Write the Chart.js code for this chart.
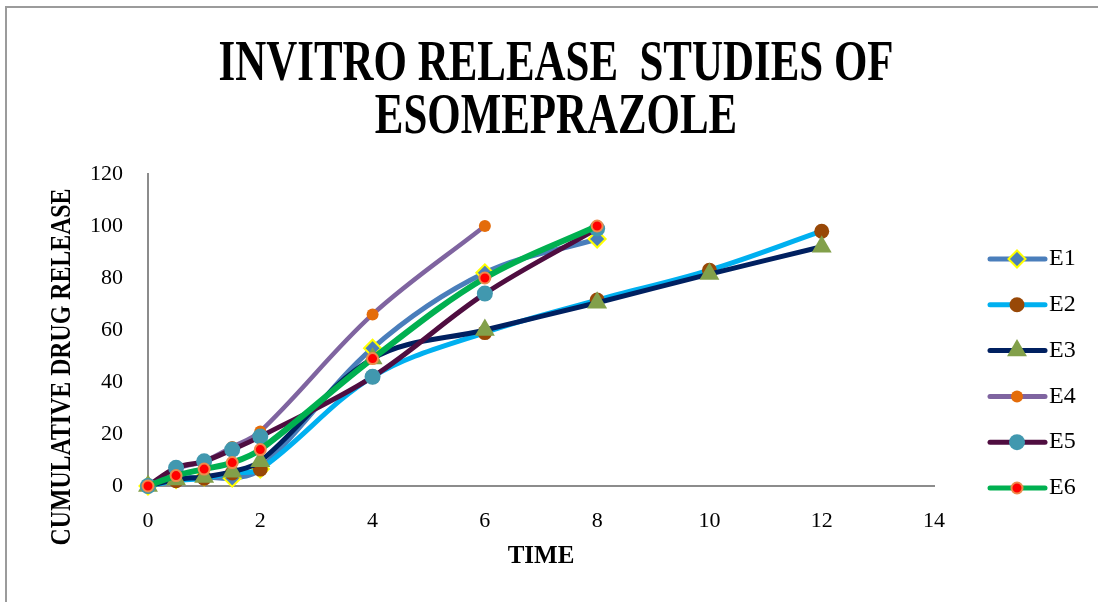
<!DOCTYPE html>
<html>
<head>
<meta charset="utf-8">
<title>Invitro release studies of esomeprazole</title>
<script src="https://cdn.jsdelivr.net/npm/chart.js@4.4.1/dist/chart.umd.min.js"></script>
<style>
  html, body { margin: 0; padding: 0; background: #fff; }
  canvas { display: block; }
</style>
</head>
<body>
<canvas id="releaseChart" width="1098" height="602"></canvas>
<script>
// sampling times (h)
const time = [0, 0.5, 1, 1.5, 2, 4, 6, 8, 10, 12];

// cumulative drug release (%) for each formulation
const e1 = [0, 2.5, 3.5, 3, 6.5, 53, 82, 95];
const e2 = [0, 2, 3, 5, 6.5, 42, 59, 71.5, 83, 98];
const e3 = [0, 2.5, 3.5, 5.5, 9.5, 49, 60, 70.5, 81.5, 92];
const e4 = [0, 6.5, 9.5, 15, 21, 66, 100];
const e5 = [0, 7, 9.5, 14, 19, 42, 74, 99];
const e6 = [0, 4, 6.5, 9, 14, 49, 80, 100];

const seriesNames = ['E1', 'E2', 'E3', 'E4', 'E5', 'E6'];
const seriesValues = [e1, e2, e3, e4, e5, e6];

const titleLines = ['INVITRO RELEASE  STUDIES OF', 'ESOMEPRAZOLE'];
const xTitle = 'TIME';
const yTitle = 'CUMULATIVE DRUG RELEASE';
const xRange = [0, 14, 2];   // min, max, step
const yRange = [0, 120, 20];

// line + marker look per series
const styles = [
  { line: '#4A7EBB', width: 5,   point: 'rectRot',  radius: 8.5,  fill: '#4A7EBB', border: '#FFFF00', bw: 2 },
  { line: '#00B0F0', width: 5,   point: 'circle',   radius: 7.5,  fill: '#984807', border: '#984807', bw: 0 },
  { line: '#002060', width: 5,   point: 'triangle', radius: 11.5, fill: '#82A04A', border: '#82A04A', bw: 0 },
  { line: '#7F64A0', width: 4.5, point: 'circle',   radius: 6,    fill: '#E46C0A', border: '#E46C0A', bw: 0 },
  { line: '#4F0D40', width: 5,   point: 'circle',   radius: 8,    fill: '#4198AF', border: '#4198AF', bw: 0 },
  { line: '#00B050', width: 6,   point: 'circle',   radius: 5.5,  fill: '#FF0000', border: '#EE8A4C', bw: 2 }
];

const datasets = seriesNames.map((name, i) => ({
  label: name,
  data: seriesValues[i].map((v, j) => ({ x: time[j], y: v })),
  borderColor: styles[i].line,
  borderWidth: styles[i].width,
  borderJoinStyle: 'round',
  pointStyle: styles[i].point,
  pointRadius: styles[i].radius,
  pointBackgroundColor: styles[i].fill,
  pointBorderColor: styles[i].border,
  pointBorderWidth: styles[i].bw,
  tension: 0.35,
  clip: false,
  // later series sit on top
  order: seriesNames.length - 1 - i
}));

// white page with the thin grey frame
const frame = {
  id: 'frame',
  beforeDraw(chart) {
    const ctx = chart.ctx;
    ctx.save();
    ctx.fillStyle = '#fff';
    ctx.fillRect(0, 0, chart.width, chart.height);
    ctx.strokeStyle = '#9B9B9B';
    ctx.lineWidth = 2;
    ctx.strokeRect(6, 7, chart.width + 10, chart.height + 10);
    ctx.restore();
  }
};

// condensed bold serif headings
const headings = {
  id: 'headings',
  afterDraw(chart) {
    const ctx = chart.ctx;
    ctx.save();
    ctx.fillStyle = '#000';
    ctx.textAlign = 'center';
    ctx.textBaseline = 'alphabetic';
    ctx.font = 'bold 57px "Liberation Serif"';
    const sx = 675 / ctx.measureText(titleLines[0]).width;
    titleLines.forEach((line, i) => {
      ctx.save();
      ctx.translate(556, 80 + 53 * i);
      ctx.scale(sx, 1);
      ctx.fillText(line, 0, 0);
      ctx.restore();
    });
    ctx.font = 'bold 30px "Liberation Serif"';
    const sy = 357 / ctx.measureText(yTitle).width;
    ctx.translate(70, 367);
    ctx.rotate(-Math.PI / 2);
    ctx.scale(sy, 1);
    ctx.fillText(yTitle, 0, 0);
    ctx.restore();
  }
};

// legend: line sample with marker, label to the right
const sideLegend = {
  id: 'sideLegend',
  afterDraw(chart) {
    const ctx = chart.ctx;
    chart.data.datasets.forEach((ds, i) => {
      const y = 259 + 45.8 * i;
      ctx.save();
      ctx.strokeStyle = ds.borderColor;
      ctx.lineWidth = 5;
      ctx.lineCap = 'round';
      ctx.beginPath();
      ctx.moveTo(990, y);
      ctx.lineTo(1045, y);
      ctx.stroke();
      ctx.fillStyle = ds.pointBackgroundColor;
      ctx.strokeStyle = ds.pointBorderColor;
      ctx.lineWidth = ds.pointBorderWidth;
      Chart.helpers.drawPoint(ctx, {
        pointStyle: ds.pointStyle,
        radius: ds.pointRadius,
        rotation: 0,
        borderWidth: ds.pointBorderWidth
      }, 1017, y);
      ctx.fillStyle = '#000';
      ctx.font = '24px "Liberation Serif"';
      ctx.textAlign = 'left';
      ctx.textBaseline = 'middle';
      ctx.fillText(ds.label, 1049, y);
      ctx.restore();
    });
  }
};

const tickFont = { family: 'Liberation Serif', size: 22 };
const axisBorder = { display: true, color: '#8C8C8C', width: 2 };

new Chart(document.getElementById('releaseChart'), {
  type: 'line',
  data: { datasets },
  options: {
    responsive: false,
    animation: false,
    layout: { padding: { top: 174, right: 164, bottom: 0, left: 0 } },
    plugins: {
      legend: { display: false },
      title: { display: false },
      tooltip: { enabled: false }
    },
    scales: {
      x: {
        type: 'linear',
        min: xRange[0],
        max: xRange[1],
        ticks: { stepSize: xRange[2], padding: 22, color: '#000', font: tickFont },
        grid: { drawOnChartArea: false, drawTicks: false },
        border: axisBorder,
        title: {
          display: true,
          text: xTitle,
          color: '#000',
          font: { family: 'Liberation Serif', size: 25, weight: 'bold' },
          padding: { top: 0, bottom: 30 }
        },
        afterFit(scale) { scale.height = 116; }
      },
      y: {
        type: 'linear',
        min: yRange[0],
        max: yRange[1],
        ticks: { stepSize: yRange[2], padding: 25, color: '#000', font: tickFont },
        grid: { drawOnChartArea: false, drawTicks: false },
        border: axisBorder,
        afterFit(scale) { scale.width = 148; }
      }
    }
  },
  plugins: [frame, headings, sideLegend]
});
</script>
</body>
</html>
